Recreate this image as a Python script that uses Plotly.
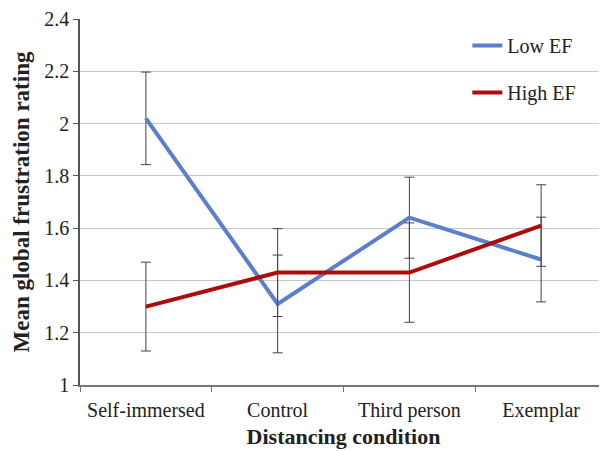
import plotly.graph_objects as go

categories = ["Self-immersed", "Control", "Third person", "Exemplar"]
low_ef = [2.02, 1.31, 1.64, 1.48]
low_ef_err = [0.177, 0.187, 0.155, 0.162]
high_ef = [1.30, 1.43, 1.43, 1.61]
high_ef_err = [0.17, 0.168, 0.19, 0.156]
y_ticks = [1, 1.2, 1.4, 1.6, 1.8, 2, 2.2, 2.4]
y_tick_labels = ["1", "1.2", "1.4", "1.6", "1.8", "2", "2.2", "2.4"]

font_family = "Liberation Serif"

fig = go.Figure()
fig.add_trace(go.Scatter(
    x=categories, y=low_ef, mode="lines", name="Low EF",
    line=dict(color="#5B7FCC", width=4),
    error_y=dict(type="data", array=low_ef_err, visible=True,
                 color="#444444", thickness=1, width=5),
    legendgroup="a",
))
fig.add_trace(go.Scatter(
    x=categories, y=high_ef, mode="lines", name="High EF",
    line=dict(color="#AE0C0C", width=4),
    error_y=dict(type="data", array=high_ef_err, visible=True,
                 color="#444444", thickness=1, width=5),
    legendgroup="b",
))

fig.update_layout(
    width=607, height=451,
    margin=dict(l=72, r=8, t=11, b=74, autoexpand=False),
    paper_bgcolor="white", plot_bgcolor="white",
    font=dict(family=font_family, size=20, color="#222222"),
    legend=dict(x=0.735, y=0.981, xanchor="left", yanchor="top",
                bgcolor="rgba(255,255,255,0)", tracegroupgap=18,
                font=dict(size=20, family=font_family)),
    showlegend=True,
)
fig.update_xaxes(
    type="category", range=[-0.5, 3.5], automargin=False,
    showline=True, linecolor="#777777", linewidth=1.5,
    ticks="outside", tickson="boundaries", ticklen=5, tickcolor="#777777",
    showgrid=False, tickfont=dict(size=20, family=font_family), ticklabelstandoff=6,
    title=dict(text="<b>Distancing condition</b>", font=dict(size=22, family=font_family), standoff=8),
)
fig.update_yaxes(
    range=[1, 2.4], tickvals=y_ticks, ticktext=y_tick_labels, automargin=False,
    showline=True, linecolor="#555555", linewidth=1.5,
    ticks="outside", ticklen=5, tickcolor="#555555",
    showgrid=True, gridcolor="#C8C8C8", gridwidth=1,
    zeroline=False, tickfont=dict(size=20, family=font_family),
    title=dict(text="<b>Mean global frustration rating</b>", font=dict(size=23, family=font_family), standoff=8),
)

fig.write_html("out.html")
